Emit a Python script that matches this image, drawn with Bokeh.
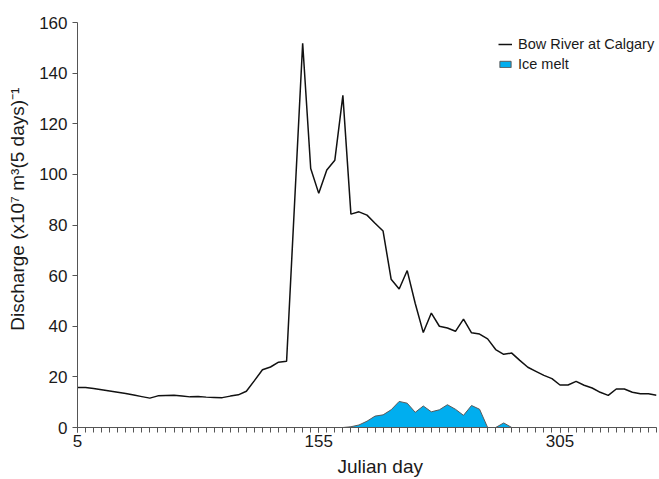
from bokeh.plotting import figure
from bokeh.models import (Range1d, FixedTicker, Legend, LegendItem,
                          ColumnDataSource)
from bokeh.embed import file_html
from bokeh.resources import INLINE

# Julian day of each 5-day period
days = [5, 10, 15, 20, 25, 30, 35, 40, 45, 50, 55, 60, 65, 70, 75, 80, 85,
        90, 95, 100, 105, 110, 115, 120, 125, 130, 135, 140, 145, 150, 155,
        160, 165, 170, 175, 180, 185, 190, 195, 200, 205, 210, 215, 220, 225,
        230, 235, 240, 245, 250, 255, 260, 265, 270, 275, 280, 285, 290, 295,
        300, 305, 310, 315, 320, 325, 330, 335, 340, 345, 350, 355, 360, 365]

# Bow River at Calgary discharge, x10^7 m^3 per 5 days
bow_river = [15.8, 15.8, 15.4, 14.9, 14.4, 13.9, 13.4, 12.8, 12.2, 11.6,
             12.5, 12.6, 12.7, 12.4, 12.1, 12.2, 12.0, 11.9, 11.8, 12.4,
             12.9, 14.3, 18.5, 22.8, 23.9, 25.8, 26.2, 89.0, 151.8, 102.3,
             92.5, 101.7, 105.6, 131.2, 84.3, 85.2, 83.9, 80.7, 77.6, 58.6,
             54.7, 62.0, 49.0, 37.5, 45.2, 40.0, 39.3, 38.0, 42.8, 37.4,
             36.9, 35.0, 30.8, 28.9, 29.4, 26.5, 23.8, 22.2, 20.6, 19.3,
             16.8, 16.8, 18.2, 16.7, 15.6, 13.9, 12.7, 15.2, 15.2, 13.9,
             13.3, 13.3, 12.7]

# Glacier ice melt contribution, same units
ice_melt = [0, 0, 0, 0, 0, 0, 0, 0, 0, 0, 0, 0, 0, 0, 0, 0, 0, 0, 0, 0,
            0, 0, 0, 0, 0, 0, 0, 0, 0, 0, 0, 0, 0, 0.0, 0.3, 1.0, 2.5, 4.5,
            5.0, 7.0, 10.3, 9.6, 6.0, 8.5, 6.2, 7.0, 9.0, 7.2, 4.8, 8.7,
            7.2, 0, 0, 1.8, 0, 0, 0, 0, 0, 0, 0, 0, 0, 0, 0, 0, 0, 0, 0, 0,
            0, 0, 0]

x_major_ticks = [5, 155, 305]
y_ticks = [0, 20, 40, 60, 80, 100, 120, 140, 160]

FONT = "Liberation Sans"
NBSP = "\u00a0"

p = figure(width=659, height=479, output_backend="svg", toolbar_location=None,
           x_range=Range1d(5, 365), y_range=Range1d(0, 160),
           min_border_left=77, min_border_right=3, min_border_top=22,
           min_border_bottom=51)
p.background_fill_color = "white"
p.border_fill_color = "white"
p.outline_line_color = None
p.xgrid.visible = False
p.ygrid.visible = False

# ice melt as a closed polygon down to zero
poly_x = days + days[::-1]
poly_y = ice_melt + [0] * len(days)
ice = p.patch(poly_x, poly_y, fill_color="#00AEEF", line_color="#5a5a5a",
              line_width=1)

src = ColumnDataSource(dict(day=days, q=bow_river))
river = p.line("day", "q", source=src, line_color="#111111", line_width=1.5)

# axes
xa = p.xaxis[0]
xa.ticker = FixedTicker(ticks=x_major_ticks, minor_ticks=days)
xa.major_tick_out = 5
xa.major_tick_in = 0
xa.minor_tick_out = 5
xa.minor_tick_in = 0
xa.major_label_standoff = 2
xa.major_label_text_font = FONT
xa.major_label_text_font_size = "17px"
xa.major_label_text_color = "#1a1a1a"
xa.axis_line_color = "#555555"
xa.major_tick_line_color = "#555555"
xa.minor_tick_line_color = "#555555"
# leading non-breaking spaces nudge the title a little right of centre
xa.axis_label = NBSP * 5 + "Julian day"
xa.axis_label_text_font = FONT
xa.axis_label_text_font_size = "19px"
xa.axis_label_text_font_style = "normal"
xa.axis_label_text_color = "#1a1a1a"
xa.axis_label_standoff = 6

ya = p.yaxis[0]
ya.ticker = FixedTicker(ticks=y_ticks, minor_ticks=[])
ya.major_tick_out = 5
ya.major_tick_in = 0
ya.minor_tick_out = 0
ya.minor_tick_in = 0
ya.major_label_standoff = 5
ya.major_label_text_font = FONT
ya.major_label_text_font_size = "17px"
ya.major_label_text_color = "#1a1a1a"
ya.axis_line_color = "#555555"
ya.major_tick_line_color = "#555555"
ya.axis_label = NBSP * 6 + "Discharge (x10\u2077 m\u00b3(5 days)\u207b\u00b9"
ya.axis_label_text_font = FONT
ya.axis_label_text_font_size = "19px"
ya.axis_label_text_font_style = "normal"
ya.axis_label_text_color = "#1a1a1a"
ya.axis_label_standoff = 8

legend = Legend(items=[LegendItem(label="Bow River at Calgary", renderers=[river]),
                       LegendItem(label="Ice melt", renderers=[ice])],
                location=(421, 355), orientation="vertical",
                label_text_font=FONT, label_text_font_size="14.5px",
                label_text_color="#1a1a1a",
                glyph_width=14, glyph_height=8, label_height=17,
                label_standoff=6, padding=5, spacing=3, margin=0,
                border_line_color=None, background_fill_alpha=0)
p.add_layout(legend, "center")

open("out.html", "w").write(file_html(p, INLINE))
